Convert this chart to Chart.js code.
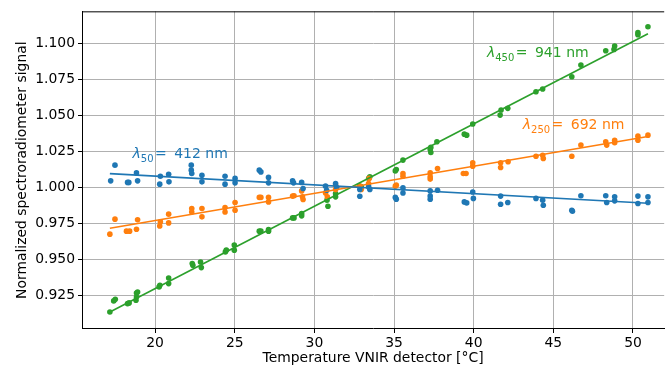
<!DOCTYPE html>
<html>
<head>
<meta charset="utf-8">
<script src="https://cdn.jsdelivr.net/npm/chart.js@4"></script>
<style>
  html, body { margin: 0; padding: 0; background: #fff; overflow: hidden; }
</style>
</head>
<body>
<canvas id="chart" width="667" height="368"></canvas>
<script>
// tick labels
const xTicks = [20, 25, 30, 35, 40, 45, 50];
const yTicks = [0.925, 0.95, 0.975, 1.0, 1.025, 1.05, 1.075, 1.1];

// band names for the annotations
const bandSub = ['50', '250', '450'];
const bandNm = ['412 nm', '692 nm', '941 nm'];

// measured points (temperature / normalized signal)
const blueX = [17.48, 17.21, 18.27, 18.35, 18.83, 18.90, 20.33, 20.29, 20.85, 20.87, 22.27, 22.27, 22.30, 22.94, 22.94, 24.39, 24.39,
  25.02, 25.02, 26.54, 26.64, 27.12, 27.12, 28.63, 28.69, 29.20, 29.29, 30.70, 30.77, 31.33, 31.40, 32.85, 32.85, 33.41, 33.48,
  35.08, 35.14, 35.56, 35.56, 37.27, 37.27, 37.27, 37.73, 39.41, 39.56, 39.94, 39.98, 41.69, 41.69, 42.14, 43.91, 44.33, 44.37,
  46.16, 46.20, 46.73, 48.29, 48.35, 48.85, 48.85, 50.31, 50.31, 50.94, 50.94];
const blueY = [1.0155, 1.0046, 1.0035, 1.0035, 1.0101, 1.0046, 1.0078, 1.0023, 1.0092, 1.0039, 1.0155, 1.0120, 1.0097, 1.0085, 1.0039, 1.0078, 1.0023,
  1.0063, 1.0032, 1.0120, 1.0108, 1.0070, 1.0032, 1.0046, 1.0032, 1.0035, 0.9993, 1.0009, 0.9981, 1.0028, 1.0000, 0.9986, 0.9939, 1.0004, 0.9986,
  0.9931, 0.9919, 0.9997, 0.9962, 0.9976, 0.9940, 0.9919, 0.9981, 0.9900, 0.9893, 0.9969, 0.9924, 0.9940, 0.9884, 0.9896, 0.9924, 0.9912, 0.9877,
  0.9842, 0.9835, 0.9942, 0.9942, 0.9896, 0.9935, 0.9907, 0.9940, 0.9889, 0.9935, 0.9896];

const orangeX = [17.48, 17.16, 18.20, 18.40, 18.90, 18.83, 20.33, 20.29, 20.85, 20.85, 22.30, 22.30, 22.94, 22.94, 24.39, 24.39,
  25.02, 25.02, 26.54, 26.64, 27.12, 27.12, 28.63, 28.72, 29.20, 29.25, 29.29, 30.70, 30.81, 31.33, 31.33, 32.85, 32.94, 33.40, 33.44,
  35.14, 35.08, 35.56, 35.56, 37.27, 37.27, 37.27, 37.73, 39.35, 39.52, 39.94, 39.94, 41.69, 41.69, 42.16, 43.91, 44.33, 44.37,
  46.16, 46.73, 48.29, 48.35, 48.85, 48.85, 50.31, 50.31, 50.94];
const orangeY = [0.9780, 0.9676, 0.9697, 0.9697, 0.9776, 0.9710, 0.9761, 0.9733, 0.9815, 0.9754, 0.9854, 0.9830, 0.9854, 0.9796, 0.9861, 0.9830,
  0.9896, 0.9842, 0.9931, 0.9931, 0.9931, 0.9900, 0.9940, 0.9942, 0.9976, 0.9935, 0.9917, 0.9962, 0.9935, 1.0016, 0.9986, 1.0009, 0.9986, 1.0028, 1.0063,
  1.0016, 1.0009, 1.0097, 1.0078, 1.0101, 1.0074, 1.0058, 1.0132, 1.0097, 1.0097, 1.0171, 1.0148, 1.0171, 1.0139, 1.0178, 1.0217, 1.0224, 1.0201,
  1.0217, 1.0294, 1.0317, 1.0294, 1.0328, 1.0310, 1.0356, 1.0328, 1.0363];

const greenX = [17.16, 17.40, 17.50, 18.27, 18.37, 18.83, 18.90, 18.83, 18.80, 20.25, 20.30, 20.85, 20.85, 22.37, 22.33, 22.85, 22.90,
  24.41, 24.47, 24.97, 24.97, 26.54, 26.64, 27.12, 27.12, 28.63, 28.72, 29.20, 29.20, 30.79, 30.85, 31.33, 31.33, 32.85, 32.94, 33.41, 33.48,
  35.08, 35.14, 35.56, 37.27, 37.31, 37.31, 37.69, 39.41, 39.56, 39.94, 41.72, 41.66, 42.14, 43.91, 44.33,
  46.16, 46.73, 48.29, 48.85, 48.81, 50.31, 50.31, 50.94];
const greenY = [0.9136, 0.9213, 0.9224, 0.9194, 0.9199, 0.9268, 0.9275, 0.9240, 0.9217, 0.9310, 0.9322, 0.9372, 0.9333, 0.9460, 0.9472, 0.9483, 0.9444,
  0.9553, 0.9565, 0.9600, 0.9565, 0.9697, 0.9697, 0.9708, 0.9697, 0.9789, 0.9789, 0.9819, 0.9803, 0.9912, 0.9870, 0.9935, 0.9958, 1.0009, 1.0004, 1.0063, 1.0074,
  1.0115, 1.0125, 1.0190, 1.0264, 1.0243, 1.0278, 1.0317, 1.0370, 1.0363, 1.0440, 1.0537, 1.0502, 1.0549, 1.0664, 1.0683,
  1.0768, 1.0849, 1.0949, 1.0981, 1.0958, 1.1074, 1.1060, 1.1115];

// linear fits, end points
const fitX = [17.16, 50.94];
const blueFit = [1.0096, 0.9890];
const orangeFit = [0.9717, 1.0354];
const greenFit = [0.9136, 1.1067];

const BLUE = '#1f77b4', ORANGE = '#ff7f0e', GREEN = '#2ca02c';
const FONT = 'DejaVu Sans';

function pts(xs, ys) {
  return xs.map((x, i) => ({ x: x, y: ys[i] }));
}

function scatterSet(xs, ys, color) {
  return {
    type: 'scatter', data: pts(xs, ys), backgroundColor: color, borderWidth: 0,
    pointRadius: 2.8, pointHoverRadius: 2.8, order: 2
  };
}

function fitSet(ys, color) {
  return {
    type: 'line', data: pts(fitX, ys), borderColor: color, borderWidth: 1.6,
    pointRadius: 0, fill: false, order: 1
  };
}

// lambda annotations + top spine
const annot = {
  id: 'annot',
  afterDatasetsDraw(chart) {
    const ctx = chart.ctx;
    const x = chart.scales.x, y = chart.scales.y;
    const where = [[18.58, 1.0201, BLUE], [43.08, 1.0403, ORANGE], [40.83, 1.0903, GREEN]];
    ctx.save();
    ctx.textBaseline = 'alphabetic';
    ctx.textAlign = 'left';
    where.forEach((w, i) => {
      let px = x.getPixelForValue(w[0]);
      const py = y.getPixelForValue(w[1]);
      ctx.fillStyle = w[2];
      ctx.font = 'italic 14px ' + FONT;
      ctx.fillText('\u03bb', px, py);
      px += ctx.measureText('\u03bb').width;
      ctx.font = '10px ' + FONT;
      ctx.fillText(bandSub[i], px, py + 3.5);
      px += ctx.measureText(bandSub[i]).width + 1.5;
      ctx.font = '14px ' + FONT;
      ctx.fillText('=', px, py);
      px += ctx.measureText('= ').width + 3;
      ctx.fillText(bandNm[i], px, py);
    });
    const a = chart.chartArea;
    ctx.strokeStyle = '#000';
    ctx.lineWidth = 1;
    ctx.beginPath();
    ctx.moveTo(a.left, a.top + 0.5);
    ctx.lineTo(a.right, a.top + 0.5);
    ctx.stroke();
    ctx.restore();
  }
};

Chart.defaults.font.family = FONT;
Chart.defaults.font.size = 13.9;
Chart.defaults.color = '#000';

new Chart(document.getElementById('chart'), {
  data: {
    datasets: [
      scatterSet(blueX, blueY, BLUE),
      scatterSet(orangeX, orangeY, ORANGE),
      scatterSet(greenX, greenY, GREEN),
      fitSet(blueFit, BLUE),
      fitSet(orangeFit, ORANGE),
      fitSet(greenFit, GREEN)
    ]
  },
  options: {
    responsive: false,
    animation: false,
    layout: { padding: { top: 11, right: 0, left: 0, bottom: 0 } },
    plugins: { legend: { display: false }, tooltip: { enabled: false } },
    scales: {
      x: {
        type: 'linear', position: 'bottom', min: 15.41, max: 51.96,
        afterBuildTicks: s => { s.ticks = xTicks.map(v => ({ value: v })); },
        afterFit: s => { s.height = 39; },
        grid: { color: '#b0b0b0', lineWidth: 1, drawTicks: true, tickLength: 4, tickColor: '#000' },
        border: { color: '#000', width: 1 },
        ticks: { padding: 2, maxRotation: 0, callback: v => String(v) },
        title: { display: true, text: 'Temperature VNIR detector [°C]', padding: { top: 0, bottom: 1 } }
      },
      y: {
        type: 'linear', min: 0.9018, max: 1.1222,
        afterBuildTicks: s => { s.ticks = yTicks.map(v => ({ value: v })); },
        afterFit: s => { s.width = 82; },
        grid: { color: '#b0b0b0', lineWidth: 1, drawTicks: true, tickLength: 4, tickColor: '#000' },
        border: { color: '#000', width: 1 },
        ticks: { padding: 3, callback: v => v.toFixed(3) },
        title: { display: true, text: 'Normalized spectroradiometer signal', padding: { top: 14, bottom: 0 } }
      }
    }
  },
  plugins: [annot]
});
</script>
</body>
</html>
